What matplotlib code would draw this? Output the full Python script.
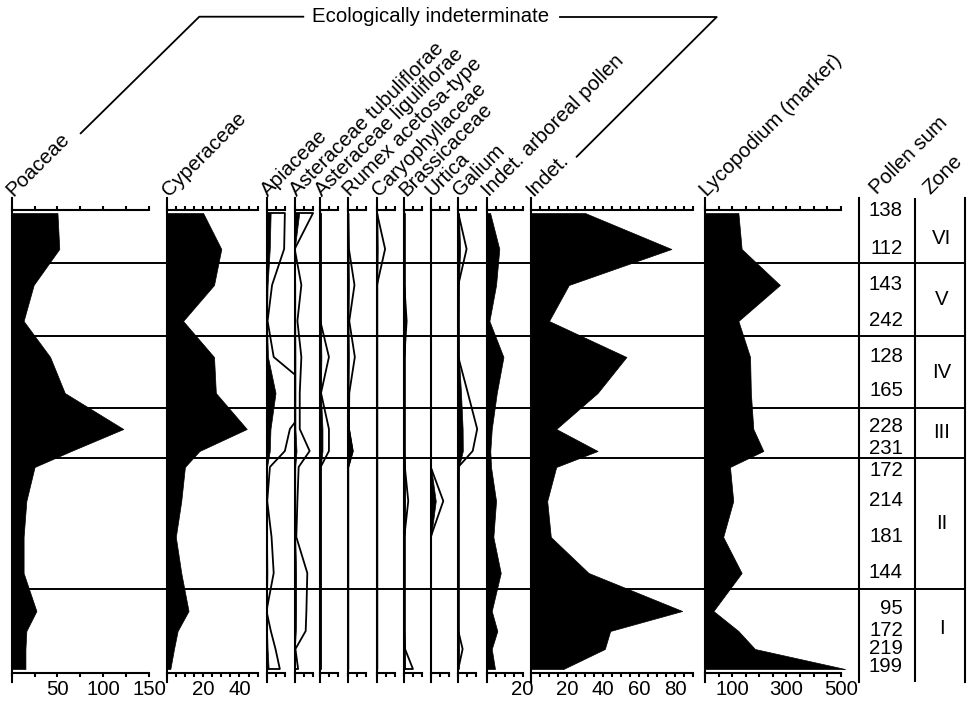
import numpy as np
import matplotlib.pyplot as plt

plt.rcParams['font.family'] = ['Liberation Sans', 'DejaVu Sans']
plt.rcParams['font.size'] = 14.7

# sample depths (cm) and pollen counts per sample
depth = [0, 18, 36, 54, 72, 90, 108, 119, 127, 144, 162, 180, 199, 209, 218, 228]
pollen_sum = [138, 112, 143, 242, 128, 165, 228, 231, 172, 214, 181, 144, 95, 172, 219, 199]
zones = ['VI', 'V', 'IV', 'III', 'II', 'I']
zone_bounds = [25, 61.5, 97.5, 122.5, 188]

# silhouettes (%)
poaceae = [50, 52, 24, 13, 42, 58, 122, 65, 25, 16, 13, 13, 27, 16, 15, 15]
cyperaceae = [20, 30, 26, 9, 26, 27, 44, 18, 10, 8, 5, 8, 12, 6, 4, 2]
apiaceae = [2.3, 1.8, 0.6, 0.2, 0.8, 5.0, 2.2, 1.8, 0.3, 0.2, 0.3, 0.5, 0.2, 0.3, 0.6, 1.2]
ast_tub = [2.5, 0.0, 0.3, 0.3, 0.4, 0.4, 0.4, 1.0, 0.3, 0.3, 0.3, 0.8, 0.8, 0.6, 0.1, 0.2]
ast_lig = [0.3, 0.3, 0.3, 0.3, 0.6, 0.3, 1.2, 1.2, 0.2, 0.3, 0.3, 0.3, 0.3, 0.3, 0.3, 0.3]
rumex = [0.3, 0.3, 0.5, 0.3, 0.5, 0.3, 0.6, 2.6, 0.2, 0.2, 0.2, 0.2, 0.2, 0.2, 0.2, 0.2]
caryo = [0.2, 0.4, 0.2, 0.2, 0.2, 0.2, 0.2, 0.2, 0.2, 0.2, 0.2, 0.2, 0.2, 0.2, 0.2, 0.2]
brassica = [0.2, 0.2, 0.2, 0.6, 0.2, 0.2, 0.2, 0.2, 0.2, 0.4, 0.2, 0.2, 0.2, 0.2, 0.2, 0.5]
urtica = [0.2, 0.2, 0.2, 0.2, 0.2, 0.2, 0.2, 0.2, 0.2, 2.8, 0.2, 0.2, 0.2, 0.2, 0.2, 0.2]
galium = [0.3, 1.0, 0.3, 0.2, 0.3, 1.5, 2.4, 2.5, 0.3, 0.2, 0.2, 0.2, 0.2, 0.2, 0.3, 0.2]
indet_ap = [1.9, 7.0, 5.2, 1.5, 9.3, 5.6, 2.8, 2.0, 2.4, 5.2, 3.7, 7.8, 2.8, 5.9, 2.8, 4.6]
indet = [30, 78, 21, 10, 53, 37, 14, 37, 14, 9, 11, 32, 84, 44, 41, 18]
lycopodium = [123, 135, 276, 123, 166, 169, 178, 215, 92, 104, 67, 135, 31, 123, 184, 516]

# exaggerated curves (open outlines)
apiaceae_x = [10.2, 9.8, 3.1, 0.6, 4.0, 28, 13, 10.2, 1.9, 0.4, 2.8, 4.0, 0.0, 2.4, 5.0, 7.4]
ast_tub_x = [10.2, 0.0, 3.7, 1.5, 3.7, 2.8, 2.8, 8.3, 2.2, 1.5, 0.9, 7.0, 6.5, 6.1, 0.4, 1.9]
ast_lig_x = [0, 0, 0, 0, 4.8, 0.4, 4.8, 4.8, 0.2, 0, 0, 0, 0, 0, 0, 0]
rumex_x = [0, 0.5, 3.6, 0.7, 3.8, 0.7, 0.5, 2.6, 0, 0, 0, 0, 0, 0, 0, 0]
caryo_x = [0, 4.5, 0, 0, 0, 0, 0, 0, 0, 0, 0, 0, 0, 0, 0, 0]
brassica_x = [0, 0, 0, 1.3, 0, 0, 0, 0, 0.3, 2.2, 0, 0, 0, 0, 0.4, 4.8]
urtica_x = [0, 0, 0, 0, 0, 0, 0, 0, 0, 7.0, 0, 0, 0, 0, 0, 0]
galium_x = [0, 4.6, 0, 0, 0, 5.3, 10.5, 8.0, 0, 0, 0, 0, 0, 0, 2.4, 0]

W, H = 978, 703
TOP_PX, BOT_PX = 198, 682
YLIM = (234.5, -7.5)
AX_TOP, AX_BOT = -1.5, 229.85
LW = 1.5
# small vertical nudges (px, + is down) so crowded pollen-sum labels do not collide
SUM_NUDGE = [-2, -1, -1, 0, 0, -3, -2, -3, 3, 0, -1, 0, -3, -1, -1, -2]

fig = plt.figure(figsize=(W / 100, H / 100), dpi=100)


def add_px_axes(left, width):
    return fig.add_axes([left / W, 1 - BOT_PX / H, width / W, (BOT_PX - TOP_PX) / H])


# group bracket on top
ov = fig.add_axes([0, 0, 1, 1])
ov.set_xlim(0, W)
ov.set_ylim(H, 0)
ov.axis('off')
ov.plot([80.7, 199.3, 303.3], [133.3, 16.7, 16.7], color='k', lw=1.3)
ov.plot([560, 716.7, 576.7], [17, 17, 156.7], color='k', lw=1.3)
ov.text(431, 16.5, 'Ecologically indeterminate', ha='center', va='center')

# zone boundaries across the diagram
bg = add_px_axes(11.7, 965 - 11.7)
bg.set_ylim(*YLIM)
bg.axis('off')
bg.hlines(zone_bounds, 0, 1, transform=bg.get_yaxis_transform(), color='k', lw=1.4)

# name, silhouette, outline, left px, px per unit, xlim, axis max, tick step, labelled ticks
columns = [
    ('Poaceae', poaceae, None, 11.7, 0.915, 150, 150, 25, (50, 100, 150)),
    ('Cyperaceae', cyperaceae, None, 166.7, 1.82, 50, 50, 5, (20, 40)),
    ('Apiaceae', apiaceae, apiaceae_x, 266.5, 1.8, 15.7, 10, 5, ()),
    ('Asteraceae tubuliflorae', ast_tub, ast_tub_x, 294.7, 1.8, 14.2, 10, 5, ()),
    ('Asteraceae liguliflorae', ast_lig, ast_lig_x, 320.3, 1.8, 15.4, 10, 5, ()),
    ('Rumex acetosa-type', rumex, rumex_x, 348.0, 1.8, 16.1, 10, 5, ()),
    ('Caryophyllaceae', caryo, caryo_x, 377.0, 1.8, 15.2, 10, 5, ()),
    ('Brassicaceae', brassica, brassica_x, 404.3, 1.8, 14.7, 10, 5, ()),
    ('Urtica', urtica, urtica_x, 430.7, 1.8, 15.3, 10, 5, ()),
    ('Galium', galium, galium_x, 458.3, 1.8, 15.8, 10, 5, ()),
    ('Indet. arboreal pollen', indet_ap, None, 486.7, 1.8, 24.7, 20, 5, (20,)),
    ('Indet.', indet, None, 531.0, 1.8, 96, 90, 5, (20, 40, 60, 80)),
    ('Lycopodium (marker)', lycopodium, None, 705.0, 0.2714, 560, 500, 50, (100, 300, 500)),
]

for name, vals, exag, left, scale, xmax, amax, step, labelled in columns:
    ax = add_px_axes(left, xmax * scale)
    ax.set_xlim(0, xmax)
    ax.set_ylim(*YLIM)
    ax.patch.set_visible(False)
    ax.spines['right'].set_visible(False)
    ax.spines['left'].set_linewidth(LW)
    for side, pos in (('top', AX_TOP), ('bottom', AX_BOT)):
        ax.spines[side].set_position(('data', pos))
        ax.spines[side].set_bounds(0, amax)
        ax.spines[side].set_linewidth(LW)
    ticks = np.arange(0, amax + step / 2, step)
    ax.set_xticks(ticks)
    ax.set_xticklabels([f'{t:g}' if t in labelled else '' for t in ticks])
    ax.xaxis.set_ticks_position('both')
    ax.tick_params(axis='x', direction='out', length=3, width=LW, pad=2)
    ax.set_yticks([])
    if exag is not None:
        ax.fill_betweenx(depth, 0, exag, facecolor='none', edgecolor='k', lw=1.3)
    ax.fill_betweenx(depth, 0, vals, facecolor='k', edgecolor='k', lw=0.5)
    ax.annotate(name, xy=(0, -8), xytext=(1.5, 0), textcoords='offset points',
                rotation=45, rotation_mode='anchor', ha='left', va='baseline',
                annotation_clip=False)

# pollen sum and zone column
zc = add_px_axes(859.3, 965 - 859.3)
zc.set_xlim(0, 1)
zc.set_ylim(*YLIM)
zc.patch.set_visible(False)
zc.spines['top'].set_visible(False)
zc.spines['bottom'].set_visible(False)
zc.spines['left'].set_linewidth(LW)
zc.spines['right'].set_linewidth(LW)
zc.set_xticks([])
zc.set_yticks([])
zc.axvline((915 - 859.3) / (965 - 859.3), color='k', lw=LW)
for d, n, dy in zip(depth, pollen_sum, SUM_NUDGE):
    zc.annotate(str(n), xy=(0.413, d), xytext=(0, -dy * 0.72), textcoords='offset points',
                ha='right', va='center', annotation_clip=False)
edges = [depth[0]] + zone_bounds + [depth[-1]]
for z, a, b in zip(zones, edges[:-1], edges[1:]):
    zc.text(0.78, (a + b) / 2, z, ha='center', va='center')
zc.annotate('Pollen sum', xy=(0.167, -9), rotation=45, rotation_mode='anchor',
            ha='left', va='baseline', annotation_clip=False)
zc.annotate('Zone', xy=(0.669, -9), rotation=45, rotation_mode='anchor',
            ha='left', va='baseline', annotation_clip=False)

fig.savefig('out.png', dpi=100)
